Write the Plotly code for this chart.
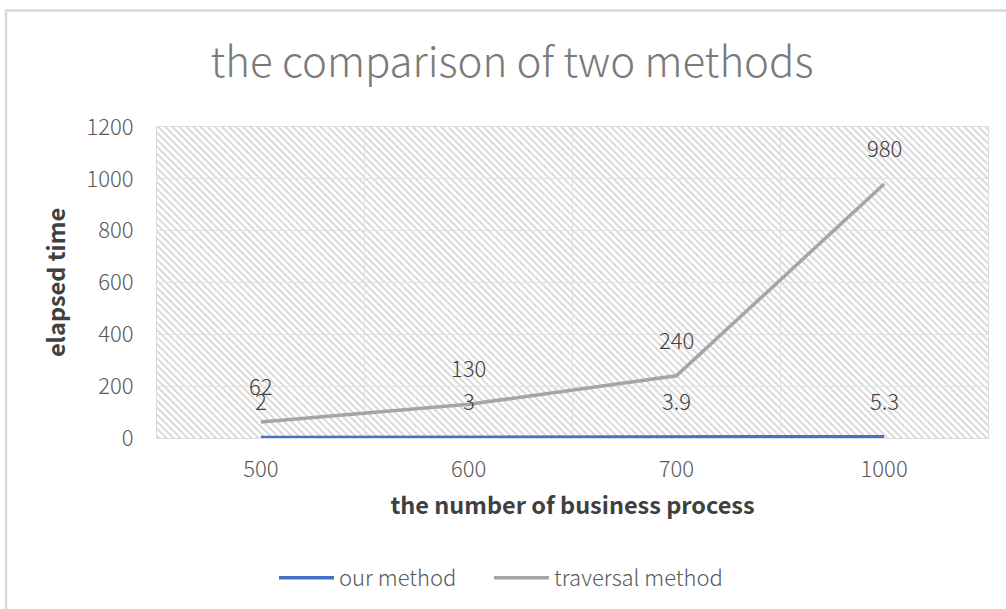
import base64
import plotly.graph_objects as go

# ---- data ----
categories = ["500", "600", "700", "1000"]
our_method = [2, 3, 3.9, 5.3]
traversal_method = [62, 130, 240, 980]
y_ticks = [0, 200, 400, 600, 800, 1000, 1200]

title_text = "the comparison of two methods"
x_title = "the number of business process"
y_title = "elapsed time"

# ---- layout geometry ----
W, H = 1006, 609
L, R, T, B = 157, 18, 127, 170
pw, ph = W - L - R, H - T - B
FONT = "Noto Sans CJK SC, Noto Sans, sans-serif"

# hatch background for the plot area (Excel "wide downward diagonal")
svg = (
    f'<svg xmlns="http://www.w3.org/2000/svg" width="{pw}" height="{ph}">'
    '<defs><pattern id="p" width="5" height="5" patternUnits="userSpaceOnUse" '
    'patternTransform="rotate(-45)">'
    '<rect x="0" y="0" width="5" height="5" fill="#ffffff"/>'
    '<rect x="0" y="0" width="2" height="5" fill="#dadada"/>'
    '</pattern></defs>'
    f'<rect width="{pw}" height="{ph}" fill="url(#p)"/></svg>'
)
svg_uri = "data:image/svg+xml;base64," + base64.b64encode(svg.encode()).decode()

fig = go.Figure()
fig.add_trace(go.Scatter(
    x=categories, y=our_method, mode="lines", name="our method",
    line=dict(color="#4472C4", width=3.5), legend="legend",
))
fig.add_trace(go.Scatter(
    x=categories, y=traversal_method, mode="lines", name="traversal method",
    line=dict(color="#A5A5A5", width=3.5), legend="legend2",
))

# data labels (category axis annotations use category index)
for series in (our_method, traversal_method):
    for i, v in enumerate(series):
        fig.add_annotation(
            x=i, y=v, text=f"{v:g}", showarrow=False, yshift=37,
            xanchor="center", yanchor="middle",
            font=dict(family=FONT, size=22, color="#404040", weight=300),
        )

# outer chart border (only left/top visible in the crop)
fig.add_shape(
    type="rect", xref="paper", yref="paper",
    x0=(6 - L) / pw, x1=(W + 10 - L) / pw,
    y0=-(H + 10 - T - ph) / ph, y1=(T + ph - 10) / ph,
    line=dict(color="#d9d9d9", width=2.5), fillcolor="rgba(0,0,0,0)", layer="below",
)

legend_common = dict(
    orientation="h", xanchor="left",
    y=-(578 - T - ph) / ph, yanchor="middle",
    font=dict(family=FONT, size=22, color="#595959", weight=300),
    itemwidth=55, bgcolor="rgba(0,0,0,0)",
)

fig.update_layout(
    width=W, height=H,
    margin=dict(l=L, r=R, t=T, b=B),
    paper_bgcolor="white",
    plot_bgcolor="rgba(0,0,0,0)",
    images=[dict(
        source=svg_uri, xref="paper", yref="paper", x=0, y=1,
        sizex=1, sizey=1, xanchor="left", yanchor="top",
        sizing="stretch", layer="below",
    )],
    title=dict(
        text=title_text, x=512 / W, xanchor="center", xref="container",
        y=1 - 62 / H, yanchor="middle", yref="container",
        font=dict(family=FONT, size=42, color="#7a7a7a", weight=300),
    ),
    showlegend=True,
    legend=dict(x=(274 - L) / pw, **legend_common),
    legend2=dict(x=(489 - L) / pw, **legend_common),
    xaxis=dict(
        type="category", range=[-0.5, len(categories) - 0.5],
        tickson="boundaries", ticks="", showgrid=True, gridcolor="#e2e2e2", gridwidth=1,
        showline=True, linecolor="#dcdcdc", linewidth=1, mirror=True,
        tickfont=dict(family=FONT, size=22, color="#595959", weight=300),
        ticklabelstandoff=12,
        title=dict(text=x_title, standoff=15,
                   font=dict(family=FONT, size=23.5, color="#404040", weight="bold")),
        zeroline=False,
    ),
    yaxis=dict(
        range=[0, 1200], tickvals=y_ticks, ticks="", showgrid=True,
        gridcolor="#e2e2e2", gridwidth=1,
        showline=True, linecolor="#dcdcdc", linewidth=1, mirror=True,
        tickfont=dict(family=FONT, size=22, color="#595959", weight=300),
        ticklabelstandoff=18,
        title=dict(text=y_title, standoff=14,
                   font=dict(family=FONT, size=23.5, color="#404040", weight="bold")),
        zeroline=False,
    ),
)

fig.write_html("out.html")
